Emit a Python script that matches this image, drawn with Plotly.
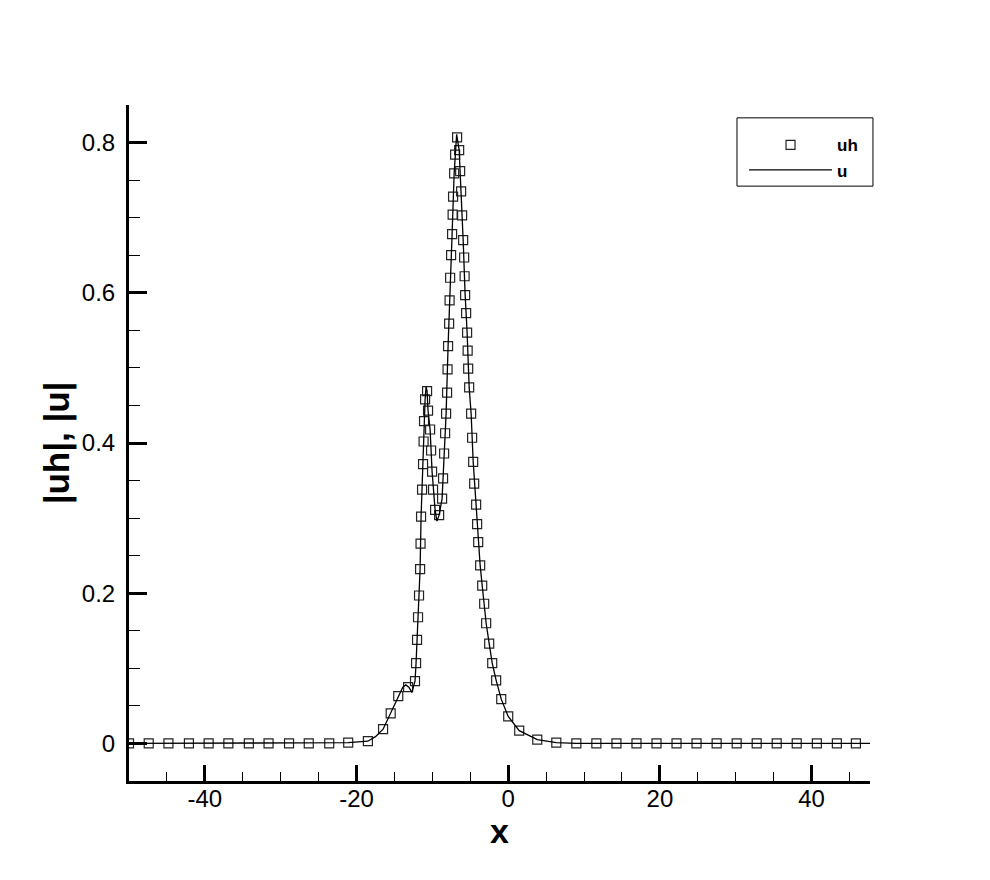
import plotly.graph_objects as go

# numerical solution |uh| at the mesh nodes
x_uh = [-50.0, -47.4, -44.8, -42.1, -39.5, -36.9, -34.2, -31.6, -28.9, -26.3,
        -23.6, -21.1, -18.5, -16.5, -15.5, -14.5, -13.2, -12.29, -12.15, -12.02,
        -11.89, -11.76, -11.62, -11.56, -11.49, -11.36, -11.23, -11.16, -11.10, -10.96,
        -10.70, -10.57, -10.30, -10.17, -10.04, -9.91, -9.64, -9.11, -8.72, -8.59,
        -8.45, -8.32, -8.19, -8.06, -8.00, -7.93, -7.79, -7.73, -7.66, -7.53,
        -7.40, -7.33, -7.27, -7.13, -7.00, -6.74, -6.47, -6.34, -6.21, -6.08,
        -5.94, -5.81, -5.75, -5.68, -5.55, -5.42, -5.35, -5.28, -5.15, -4.89,
        -4.76, -4.62, -4.49, -4.23, -4.10, -3.96, -3.70, -3.43, -3.17, -2.91,
        -2.51, -2.11, -1.59, -0.92, 0.0, 1.45, 3.83, 6.34, 8.98, 11.62,
        14.27, 16.91, 19.55, 22.19, 24.83, 27.48, 30.12, 32.76, 35.40, 38.04,
        40.69, 43.33, 45.84]
uh = [0.0, 0.0, 0.0, 0.0, 0.0, 0.0, 0.0, 0.0, 0.0, 0.0,
      0.0, 0.001, 0.003, 0.019, 0.040, 0.063, 0.075, 0.083, 0.107, 0.138,
      0.168, 0.197, 0.232, 0.266, 0.302, 0.338, 0.372, 0.402, 0.429, 0.458,
      0.469, 0.443, 0.418, 0.390, 0.362, 0.338, 0.311, 0.304, 0.326, 0.353,
      0.386, 0.413, 0.439, 0.467, 0.498, 0.529, 0.559, 0.590, 0.620, 0.650,
      0.678, 0.704, 0.728, 0.759, 0.784, 0.807, 0.790, 0.762, 0.735, 0.703,
      0.670, 0.647, 0.622, 0.597, 0.573, 0.547, 0.523, 0.499, 0.474, 0.439,
      0.407, 0.375, 0.346, 0.318, 0.292, 0.268, 0.237, 0.210, 0.186, 0.160,
      0.133, 0.107, 0.084, 0.059, 0.036, 0.017, 0.005, 0.001, 0.0, 0.0,
      0.0, 0.0, 0.0, 0.0, 0.0, 0.0, 0.0, 0.0, 0.0, 0.0,
      0.0, 0.0, 0.0]

# exact solution |u|
x_u = [-50.0, -23.6, -21.1, -18.5, -17.5, -16.5, -15.5, -14.5, -13.9, -13.5,
       -13.1, -12.7, -12.29, -12.15, -12.02, -11.89, -11.76, -11.62, -11.49, -11.36,
       -11.23, -11.10, -10.96, -10.83, -10.70, -10.57, -10.30, -10.04, -9.64, -9.40,
       -9.11, -8.72, -8.45, -8.19, -7.93, -7.66, -7.40, -7.13, -6.95, -6.80,
       -6.47, -6.21, -5.94, -5.68, -5.42, -5.15, -4.89, -4.62, -4.23, -3.96,
       -3.70, -3.43, -3.17, -2.91, -2.51, -2.11, -1.59, -0.92, 0.0, 1.45,
       3.83, 6.34, 8.98, 50.0]
u = [0.0, 0.0, 0.001, 0.003, 0.009, 0.019, 0.040, 0.063, 0.075, 0.078,
     0.075, 0.068, 0.083, 0.107, 0.138, 0.168, 0.197, 0.232, 0.302, 0.338,
     0.372, 0.429, 0.458, 0.475, 0.469, 0.443, 0.418, 0.362, 0.311, 0.296,
     0.304, 0.326, 0.386, 0.439, 0.529, 0.620, 0.678, 0.759, 0.795, 0.811,
     0.790, 0.735, 0.670, 0.597, 0.547, 0.474, 0.439, 0.375, 0.318, 0.268,
     0.237, 0.210, 0.186, 0.160, 0.133, 0.107, 0.084, 0.059, 0.036, 0.017,
     0.005, 0.001, 0.0, 0.0]

x_ticks = [-40, -20, 0, 20, 40]
x_ticklabels = ['-40', '-20', '0', '20', '40']

font = 'Liberation Sans, Arial, sans-serif'

fig = go.Figure()
fig.add_trace(go.Scatter(
    x=x_uh, y=uh, mode='markers', name='uh',
    marker=dict(symbol='square-open', size=9, color='#222',
                line=dict(width=1.2, color='#222'))
))
fig.add_trace(go.Scatter(
    x=x_u, y=u, mode='lines', name='u',
    line=dict(color='black', width=1.3)
))

# legend frame
fig.add_shape(type='rect', xref='paper', yref='paper',
              x0=0.8205, x1=1.004, y0=0.880, y1=0.981,
              line=dict(color='black', width=1), fillcolor='white', layer='below')

# page body adds an 8px offset, so the figure is a bit smaller than the window
fig.update_layout(
    width=982, height=872,
    paper_bgcolor='white', plot_bgcolor='white',
    margin=dict(l=121, r=120, t=97, b=99),
    font=dict(family=font, size=24, color='black'),
    showlegend=True,
    legend=dict(
        x=0.830, y=0.967, xanchor='left', yanchor='top',
        bgcolor='rgba(0,0,0,0)', borderwidth=0,
        font=dict(family=font, size=17, color='black', weight='bold'),
        itemwidth=83, tracegroupgap=0,
    ),
    xaxis=dict(
        range=[-50, 47.7],
        tickmode='array', tickvals=x_ticks, ticktext=x_ticklabels,
        showline=True, linewidth=3, linecolor='black', mirror=False,
        ticks='inside', ticklen=16, tickwidth=3, tickcolor='black',
        minor=dict(dtick=5, tick0=0, ticks='inside', ticklen=9, tickwidth=1, tickcolor='black'),
        showgrid=False, zeroline=False,
        ticklabelstandoff=-6,
        title=dict(text='x', font=dict(size=34, weight='bold'), standoff=0),
    ),
    yaxis=dict(
        range=[-0.05, 0.85], dtick=0.2, tick0=0,
        showline=True, linewidth=3, linecolor='black', mirror=False,
        ticks='inside', ticklen=18, tickwidth=3, tickcolor='black',
        minor=dict(dtick=0.05, ticks='inside', ticklen=11, tickwidth=1, tickcolor='black'),
        showgrid=False, zeroline=False,
        ticklabelstandoff=6,
        title=dict(text='|uh|, |u|', font=dict(size=35, weight='bold'), standoff=2),
    ),
)

fig.write_html('out.html')
